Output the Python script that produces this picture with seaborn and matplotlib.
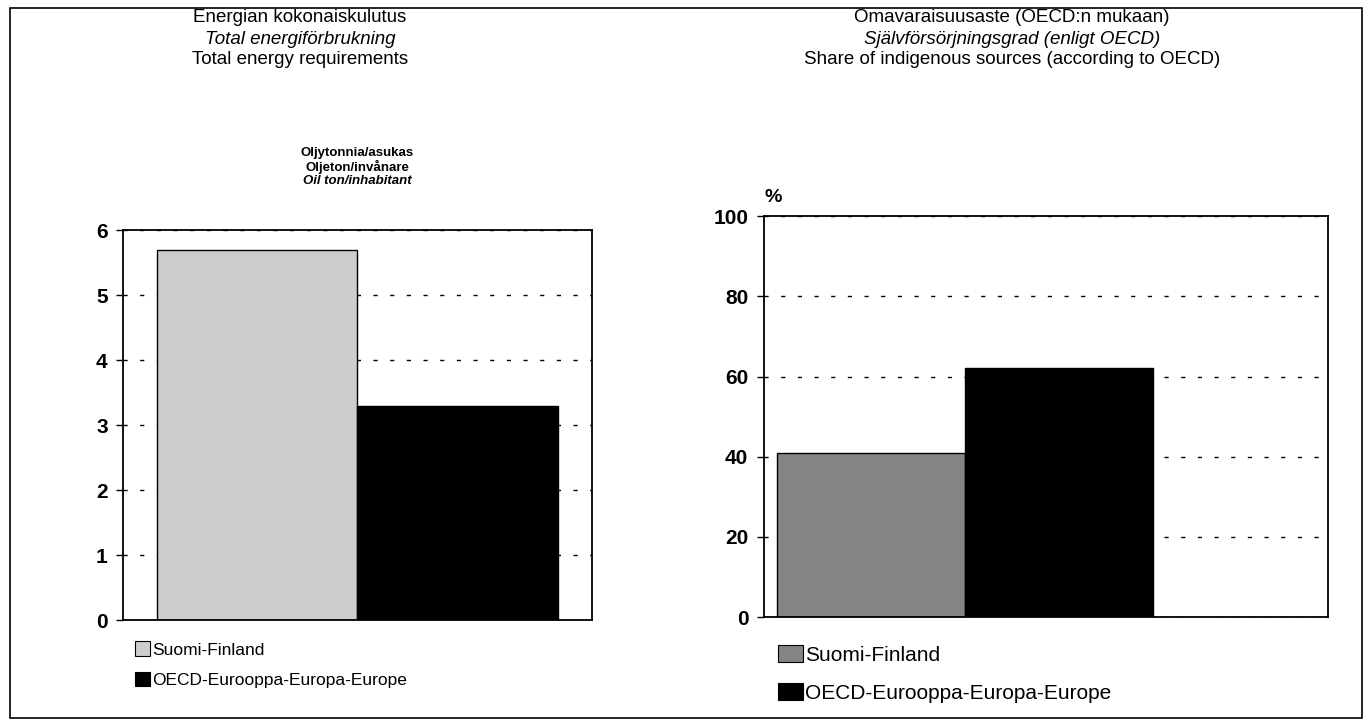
#energy charts - Finland vs OECD Europe
import pandas as pd
import seaborn as sns
from matplotlib import pyplot as plt
from matplotlib.patches import Rectangle, Patch

#data
regions = ['Suomi-Finland', 'OECD-Eurooppa-Europa-Europe']
energy_per_cap = [5.7, 3.3]
self_suff = [41, 62]
energy_ticks = [0, 1, 2, 3, 4, 5, 6]
suff_ticks = [0, 20, 40, 60, 80, 100]

sns.set_style('white')
plt.rcParams['font.family'] = ['Liberation Sans Narrow', 'Liberation Sans', 'DejaVu Sans']
plt.rcParams['text.color'] = 'black'
plt.rcParams['ytick.color'] = 'black'
plt.rcParams['ytick.labelcolor'] = 'black'

fig = plt.figure(figsize=(13.71, 7.26), dpi=100)
fig.patches.append(Rectangle((10/1371, 8/726), 1352/1371, 710/726, transform=fig.transFigure,
                             fill=False, edgecolor='black', linewidth=1.2))

def panel(ax, vals, ticks, cols, xlim):
    df = pd.DataFrame({'region': regions, 'value': vals})
    sns.barplot(data=df, x='region', y='value', hue='region', palette=cols, width=1,
                edgecolor='black', linewidth=1, legend=False, ax=ax, zorder=2)
    ax.set_xlim(*xlim)
    ax.set_ylim(ticks[0], ticks[-1])
    ax.set_yticks(ticks)
    ax.set_xticks([])
    ax.set_xlabel('')
    ax.set_ylabel('')
    ax.yaxis.grid(True, linestyle=(0, (3, 9)), color='black', linewidth=1, zorder=0)
    ax.set_axisbelow(True)
    for s in ax.spines.values():
        s.set_visible(True)
        s.set_color('black')
        s.set_linewidth(1.3)
    ax.tick_params(axis='y', left=True, length=5, width=1, color='black', labelsize=15, pad=6)
    for t in ax.get_yticklabels():
        t.set_fontweight('bold')
    handles = [Patch(facecolor=c, edgecolor='black', linewidth=0.8) for c in cols]
    return handles

#left chart
ax1 = fig.add_axes([0.0897, 0.146, 0.342, 0.537])
h1 = panel(ax1, energy_per_cap, energy_ticks, ['#cdcdcd', '#000000'], (-0.67, 1.67))
ax1.legend(h1, regions, loc='upper left', bbox_to_anchor=(0.025, -0.055), frameon=False,
           fontsize=12.5, handlelength=0.9, handleheight=0.9, handletextpad=0.1,
           labelspacing=0.8, borderaxespad=0, borderpad=0)

#right chart
ax2 = fig.add_axes([0.557, 0.150, 0.4114, 0.5523])
h2 = panel(ax2, self_suff, suff_ticks, ['#858585', '#000000'], (-0.57, 2.43))
ax2.legend(h2, regions, loc='upper left', bbox_to_anchor=(0.025, -0.07), frameon=False,
           fontsize=15, handlelength=1.2, handleheight=0.9, handletextpad=0.1,
           labelspacing=0.85, borderaxespad=0, borderpad=0)

#titles
fig.text(300/1371, 1 - 18/726, 'Energian kokonaiskulutus', ha='center', va='center', fontsize=13.5)
fig.text(300/1371, 1 - 39/726, 'Total energiförbrukning', ha='center', va='center', fontsize=13.5, style='italic')
fig.text(300/1371, 1 - 60/726, 'Total energy requirements', ha='center', va='center', fontsize=13.5)
fig.text(1012/1371, 1 - 18/726, 'Omavaraisuusaste (OECD:n mukaan)', ha='center', va='center', fontsize=13.5)
fig.text(1012/1371, 1 - 39/726, 'Självförsörjningsgrad (enligt OECD)', ha='center', va='center', fontsize=13.5, style='italic')
fig.text(1012/1371, 1 - 60/726, 'Share of indigenous sources (according to OECD)', ha='center', va='center', fontsize=13.5)

#unit texts
fig.text(357/1371, 1 - 153/726, 'Oljytonnia/asukas', ha='center', va='center', fontsize=9.5, fontweight='bold')
fig.text(357/1371, 1 - 167/726, 'Oljeton/invånare', ha='center', va='center', fontsize=9.5, fontweight='bold')
fig.text(357/1371, 1 - 181/726, 'Oil ton/inhabitant', ha='center', va='center', fontsize=9.5, fontweight='bold', style='italic')
fig.text(773/1371, 1 - 198/726, '%', ha='center', va='center', fontsize=14, fontweight='bold')

plt.savefig('out.png', dpi=100)
